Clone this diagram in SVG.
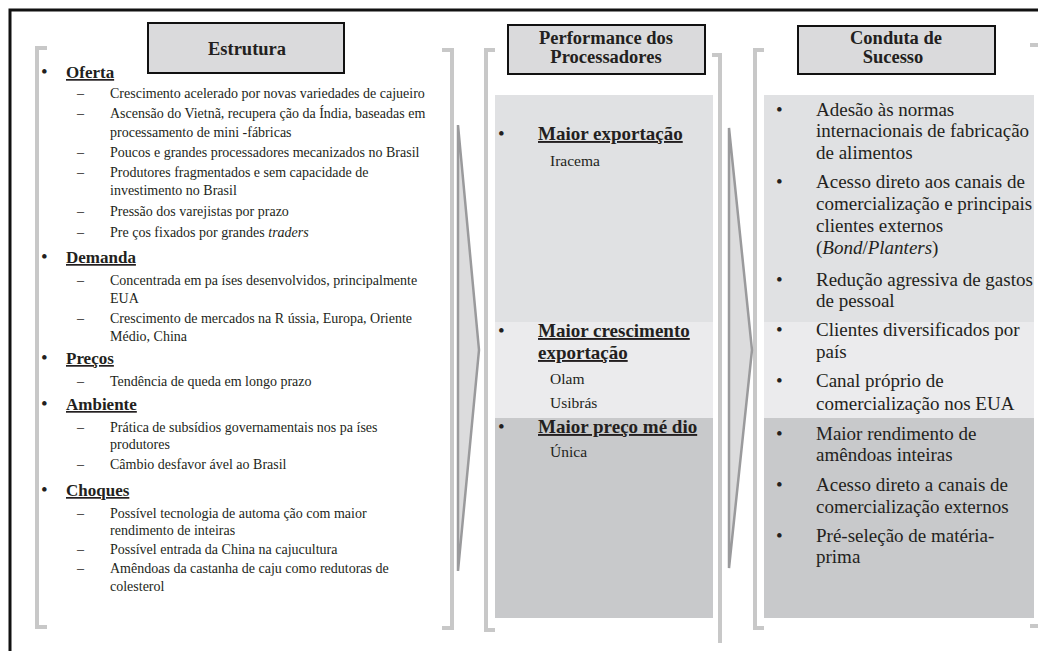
<svg xmlns="http://www.w3.org/2000/svg" width="1038" height="651" viewBox="0 0 1038 651">
<style>
text{font-family:"Liberation Serif","Times New Roman",serif;fill:#231f20}
.frame{fill:none;stroke:#111;stroke-width:3}
.br{fill:none;stroke:#c8c8c8;stroke-width:4}
.hdr{fill:#dadadc;stroke:#111;stroke-width:2}
.hdrt{font-size:18.5px;font-weight:bold;text-anchor:middle}
.h1{font-size:17px;font-weight:bold;text-decoration:underline}
.sub{font-size:14px}
.bul{font-size:19px}
.mh{font-size:19px;font-weight:bold;text-decoration:underline}
.ms{font-size:15.5px}
.rc{font-size:19px}
.arrow{fill:#dcdcdd;stroke:#9a9a9c;stroke-width:2.5;stroke-linejoin:miter}
</style>
<rect width="1038" height="651" fill="#fff"/>
<path class="frame" d="M10,651 V10 H1040"/>

<g id="backgrounds">
<rect x="495" y="95" width="218" height="227" fill="#e0e1e3"/>
<rect x="495" y="322" width="218" height="96" fill="#ebebed"/>
<rect x="495" y="418" width="218" height="200" fill="#c8c9cb"/>
<rect x="764" y="95" width="270" height="227" fill="#e0e1e3"/>
<rect x="764" y="322" width="270" height="96" fill="#ebebed"/>
<rect x="764" y="418" width="270" height="200" fill="#c8c9cb"/>
</g>

<g id="brackets">
<path class="br" d="M47,48 H37 V627 H47"/>
<path class="br" d="M442,50 H452 V628 H442"/>
<path class="br" d="M495,50 H486 V630 H495"/>
<path class="br" d="M712,55 H720 V643"/>
<path class="br" d="M764,50 H755 V628 H764"/>
<path class="br" d="M1030,45 H1041 V626 H1030"/>
</g>

<g id="connectors">
<polygon class="arrow" points="458,125 479,350 458,571"/>
<polygon class="arrow" points="729,128 752,350 729,568"/>
</g>

<g id="estrutura">
<rect class="hdr" x="148" y="23" width="196" height="50"/>
<text class="hdrt" x="247" y="55">Estrutura</text>
<text class="bul" x="41" y="78">•</text><text class="h1" x="66" y="78">Oferta</text>
<text class="sub" x="77" y="98">–</text><text class="sub" x="110" y="98">Crescimento acelerado por novas variedades de cajueiro</text>
<text class="sub" x="77" y="118">–</text><text class="sub" x="110" y="118">Ascensão do Vietnã, recupera  ção da Índia, baseadas em</text>
<text class="sub" x="110" y="137">processamento de mini -fábricas</text>
<text class="sub" x="77" y="157">–</text><text class="sub" x="110" y="157">Poucos e grandes processadores mecanizados no Brasil</text>
<text class="sub" x="77" y="177">–</text><text class="sub" x="110" y="177">Produtores fragmentados e sem capacidade de</text>
<text class="sub" x="110" y="195">investimento no Brasil</text>
<text class="sub" x="77" y="216">–</text><text class="sub" x="110" y="216">Pressão dos varejistas por prazo</text>
<text class="sub" x="77" y="237">–</text><text class="sub" x="110" y="237">Pre ços fixados por grandes <tspan font-style="italic">traders</tspan></text>
<text class="bul" x="41" y="263">•</text><text class="h1" x="66" y="263">Demanda</text>
<text class="sub" x="77" y="285">–</text><text class="sub" x="110" y="285">Concentrada em pa íses desenvolvidos, principalmente</text>
<text class="sub" x="110" y="303">EUA</text>
<text class="sub" x="77" y="323">–</text><text class="sub" x="110" y="323">Crescimento de mercados na R ússia, Europa, Oriente</text>
<text class="sub" x="110" y="341">Médio, China</text>
<text class="bul" x="41" y="364">•</text><text class="h1" x="66" y="364">Preços</text>
<text class="sub" x="77" y="386">–</text><text class="sub" x="110" y="386">Tendência de queda em longo prazo</text>
<text class="bul" x="41" y="410">•</text><text class="h1" x="66" y="410">Ambiente</text>
<text class="sub" x="77" y="432">–</text><text class="sub" x="110" y="432">Prática de subsídios governamentais nos pa íses</text>
<text class="sub" x="110" y="449">produtores</text>
<text class="sub" x="77" y="469">–</text><text class="sub" x="110" y="469">Câmbio desfavor ável ao Brasil</text>
<text class="bul" x="41" y="496">•</text><text class="h1" x="66" y="496">Choques</text>
<text class="sub" x="77" y="518">–</text><text class="sub" x="110" y="518">Possível tecnologia de automa ção com maior</text>
<text class="sub" x="110" y="535">rendimento de inteiras</text>
<text class="sub" x="77" y="554">–</text><text class="sub" x="110" y="554">Possível entrada da China na  cajucultura</text>
<text class="sub" x="77" y="573">–</text><text class="sub" x="110" y="573">Amêndoas da castanha de caju como redutoras de</text>
<text class="sub" x="110" y="591">colesterol</text>
</g>

<g id="performance">
<rect class="hdr" x="508" y="25" width="197" height="49"/>
<text class="hdrt" x="606" y="44">Performance dos</text>
<text class="hdrt" x="606" y="63">Processadores</text>
<text class="bul" x="498" y="140">•</text><text class="mh" x="538" y="140">Maior exportação</text>
<text class="ms" x="550" y="166">Iracema</text>
<text class="bul" x="498" y="337">•</text><text class="mh" x="538" y="337">Maior crescimento</text>
<text class="mh" x="538" y="359">exportação</text>
<text class="ms" x="550" y="384">Olam</text>
<text class="ms" x="550" y="408">Usibrás</text>
<text class="bul" x="498" y="433">•</text><text class="mh" x="538" y="433">Maior preço mé dio</text>
<text class="ms" x="550" y="457">Única</text>
</g>

<g id="conduta">
<rect class="hdr" x="798" y="26" width="197" height="48"/>
<text class="hdrt" x="896" y="44">Conduta de</text>
<text class="hdrt" x="893" y="63">Sucesso</text>
<text class="bul" x="776" y="116">•</text><text class="rc" x="816" y="116">Adesão às normas</text>
<text class="rc" x="816" y="137">internacionais de fabricação</text>
<text class="rc" x="816" y="159">de alimentos</text>
<text class="bul" x="776" y="188">•</text><text class="rc" x="816" y="188">Acesso direto aos canais de</text>
<text class="rc" x="816" y="210">comercialização e principais</text>
<text class="rc" x="816" y="232">clientes externos</text>
<text class="rc" x="816" y="254">(<tspan font-style="italic">Bond</tspan>/<tspan font-style="italic">Planters</tspan>)</text>
<text class="bul" x="776" y="286">•</text><text class="rc" x="816" y="286">Redução agressiva de gastos</text>
<text class="rc" x="816" y="307">de pessoal</text>
<text class="bul" x="776" y="336">•</text><text class="rc" x="816" y="336">Clientes diversificados por</text>
<text class="rc" x="816" y="358">país</text>
<text class="bul" x="776" y="387">•</text><text class="rc" x="816" y="387">Canal próprio de</text>
<text class="rc" x="816" y="410">comercialização nos EUA</text>
<text class="bul" x="776" y="440">•</text><text class="rc" x="816" y="440">Maior rendimento de</text>
<text class="rc" x="816" y="461">amêndoas inteiras</text>
<text class="bul" x="776" y="491">•</text><text class="rc" x="816" y="491">Acesso direto a canais de</text>
<text class="rc" x="816" y="513">comercialização externos</text>
<text class="bul" x="776" y="542">•</text><text class="rc" x="816" y="542">Pré-seleção de matéria-</text>
<text class="rc" x="816" y="563">prima</text>
</g>
</svg>
